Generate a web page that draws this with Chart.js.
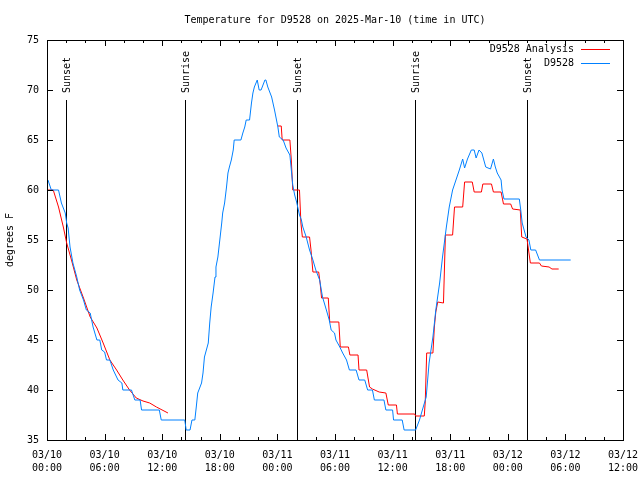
<!DOCTYPE html>
<html>
<head>
<meta charset="utf-8">
<script src="https://cdn.jsdelivr.net/npm/chart.js@4"></script>
<style>
  body { margin: 0; background: #fff; }
  canvas { display: block; }
</style>
</head>
<body>
<canvas id="chart" width="640" height="480"></canvas>
<script>
// hours since 03/10 00:00 UTC
let obsHours = [0.1, 0.45, 1.2, 1.5, 1.9, 2.05, 2.2, 2.4, 2.7, 3.1, 3.4, 3.8, 4.1, 4.5, 4.8, 5.2, 5.5, 5.7, 6.0, 6.2, 6.55, 6.9, 7.4, 7.8, 7.9, 8.8, 9.15, 9.7, 9.85, 11.7, 11.9, 14.35, 14.5, 14.9, 15.1, 15.4, 15.55, 15.7, 16.1, 16.25, 16.4, 16.8, 16.95, 17.1, 17.3, 17.5, 17.6, 17.8, 18.0, 18.2, 18.3, 18.5, 18.7, 18.85, 19.0, 19.2, 19.4, 19.5, 20.2, 20.4, 20.6, 20.75, 21.1, 21.3, 21.45, 21.6, 21.9, 22.1, 22.3, 22.7, 22.8, 23.0, 23.4, 23.7, 24.05, 24.2, 24.6, 24.9, 25.3, 25.45, 25.6, 25.8, 26.0, 26.3, 26.5, 26.65, 27.0, 27.35, 27.7, 28.0, 28.4, 28.7, 29.1, 29.4, 29.6, 29.95, 30.1, 30.5, 30.8, 31.2, 31.5, 32.2, 32.5, 33.1, 33.4, 33.9, 34.1, 35.1, 35.3, 36.0, 36.1, 37.0, 37.2, 38.4, 38.8, 39.1, 39.5, 39.8, 40.2, 40.5, 40.9, 41.2, 41.6, 41.9, 42.25, 42.6, 42.95, 43.3, 43.5, 43.8, 44.2, 44.5, 44.7, 45.0, 45.3, 45.7, 46.2, 46.5, 46.7, 46.9, 47.3, 47.4, 47.6, 49.2, 49.35, 49.5, 49.9, 50.2, 50.4, 50.9, 51.3, 54.55];
let obsTemps = [61.0, 60.0, 60.0, 58.7, 57.7, 56.7, 56.2, 54.3, 52.7, 51.3, 50.0, 49.0, 48.0, 47.7, 46.3, 45.0, 45.0, 44.0, 43.8, 43.0, 43.0, 42.0, 41.0, 40.7, 40.0, 40.0, 39.0, 39.0, 38.0, 38.0, 37.0, 37.0, 36.0, 36.0, 37.0, 37.0, 38.3, 39.7, 40.7, 41.7, 43.3, 44.7, 46.7, 48.3, 49.7, 51.3, 52.3, 53.3, 55.0, 56.7, 57.7, 58.7, 60.3, 61.7, 62.3, 63.0, 64.0, 65.0, 65.0, 65.7, 66.3, 67.0, 67.0, 68.7, 69.7, 70.3, 71.0, 70.0, 70.0, 71.0, 71.0, 70.3, 69.3, 68.0, 66.3, 65.3, 65.0, 64.2, 63.5, 62.0, 60.5, 59.5, 58.8, 57.5, 57.0, 56.3, 55.3, 54.0, 53.0, 52.0, 51.0, 49.3, 48.0, 47.0, 46.0, 45.7, 45.0, 44.3, 43.7, 43.0, 42.0, 42.0, 41.0, 41.0, 40.0, 40.0, 39.0, 39.0, 38.0, 38.0, 37.0, 37.0, 36.0, 36.0, 37.0, 38.0, 39.3, 42.7, 45.3, 48.0, 50.7, 53.3, 56.3, 58.3, 60.0, 61.0, 62.0, 63.1, 62.2, 63.1, 64.0, 64.0, 63.2, 64.0, 63.7, 62.3, 62.1, 63.1, 62.3, 61.7, 61.0, 60.0, 59.1, 59.1, 58.0, 56.7, 55.3, 55.0, 54.0, 54.0, 53.0, 53.0];

// analysis, null marks the gap
let anaHours = [0.0, 0.65, 1.2, 1.7, 2.05, 2.55, 3.1, 3.8, 4.5, 5.2, 5.85, 6.55, 7.25, 7.9, 8.6, 9.3, 10.0, 10.7, 11.4, 12.6, 18, 24.05, 24.4, 24.5, 25.3, 25.45, 25.6, 26.3, 26.45, 26.6, 27.35, 27.5, 27.7, 28.3, 28.45, 28.6, 29.3, 29.45, 30.4, 30.55, 31.4, 31.55, 32.4, 32.5, 33.3, 33.6, 33.9, 34.6, 35.3, 35.55, 36.4, 36.5, 38.3, 38.4, 39.3, 39.4, 39.55, 40.2, 40.35, 40.5, 40.7, 41.3, 41.5, 42.25, 42.45, 43.3, 43.5, 44.3, 44.5, 45.25, 45.4, 46.3, 46.5, 47.3, 47.55, 48.3, 48.5, 49.3, 49.45, 50.0, 50.35, 51.3, 51.5, 52.3, 52.6, 53.3];
let anaTemps = [60.0, 60.0, 58.3, 56.3, 54.7, 53.0, 51.0, 49.2, 47.3, 46.2, 44.7, 43.0, 42.0, 41.0, 40.0, 39.2, 38.9, 38.7, 38.3, 37.7, null, 66.4, 66.4, 65.0, 65.0, 63.0, 60.0, 60.0, 56.7, 55.3, 55.3, 54.0, 51.8, 51.8, 50.7, 49.2, 49.2, 46.8, 46.8, 44.3, 44.3, 43.5, 43.5, 42.0, 42.0, 40.3, 40.1, 39.8, 39.7, 38.5, 38.5, 37.6, 37.6, 37.4, 37.4, 38.8, 43.7, 43.7, 46.3, 47.8, 48.8, 48.7, 55.5, 55.5, 58.3, 58.3, 60.8, 60.8, 59.8, 59.8, 60.6, 60.6, 59.8, 59.8, 58.6, 58.6, 58.1, 58.0, 55.3, 55.1, 52.7, 52.7, 52.4, 52.3, 52.1, 52.1];

let eventHours = [2.0, 14.35, 26.0, 38.3, 49.95];
let eventNames = ['Sunset', 'Sunrise', 'Sunset', 'Sunrise', 'Sunset'];

let tickDates = ['03/10', '03/10', '03/10', '03/10', '03/11', '03/11', '03/11', '03/11', '03/12', '03/12', '03/12'];
let tickTimes = ['00:00', '06:00', '12:00', '18:00', '00:00', '06:00', '12:00', '18:00', '00:00', '06:00', '12:00'];

let title = 'Temperature for D9528 on 2025-Mar-10 (time in UTC)';
let font = 'DejaVu Sans Mono';

function pairs(xs, ys) {
    return xs.map((x, i) => ({ x: x, y: ys[i] }));
}

// frame, inward ticks, sun lines, title and legend, gnuplot style
const gnuplotBits = {
    id: 'gnuplotBits',
    beforeDatasetsDraw(chart) {
        const { ctx, chartArea: a, scales: { x, y } } = chart;
        ctx.save();
        ctx.strokeStyle = '#000';
        ctx.lineWidth = 1;
        ctx.fillStyle = '#000';
        ctx.font = '10px ' + font;
        eventHours.forEach((h, i) => {
            let px = Math.round(x.getPixelForValue(h)) + 0.5;
            let top = y.getPixelForValue(69);
            ctx.beginPath();
            ctx.moveTo(px, top);
            ctx.lineTo(px, a.bottom);
            ctx.stroke();
            ctx.save();
            ctx.translate(px + 1, top - 7);
            ctx.rotate(-Math.PI / 2);
            ctx.textAlign = 'left';
            ctx.textBaseline = 'middle';
            ctx.fillText(eventNames[i], 0, 0);
            ctx.restore();
        });
        ctx.restore();
    },
    afterDatasetsDraw(chart) {
        const { ctx, chartArea: a, scales: { x, y } } = chart;
        ctx.save();
        ctx.strokeStyle = '#000';
        ctx.lineWidth = 1;
        ctx.strokeRect(Math.round(a.left) + 0.5, Math.round(a.top) + 0.5,
            Math.round(a.right - a.left), Math.round(a.bottom - a.top));
        ctx.beginPath();
        for (let h = 0; h <= 60; h += 2) {
            let px = Math.round(x.getPixelForValue(h)) + 0.5;
            let len = h % 6 === 0 ? 6 : 3;
            ctx.moveTo(px, a.bottom);
            ctx.lineTo(px, a.bottom - len);
            ctx.moveTo(px, a.top);
            ctx.lineTo(px, a.top + len);
        }
        for (let t = 35; t <= 75; t += 5) {
            let py = Math.round(y.getPixelForValue(t)) + 0.5;
            ctx.moveTo(a.left, py);
            ctx.lineTo(a.left + 6, py);
            ctx.moveTo(a.right, py);
            ctx.lineTo(a.right - 6, py);
        }
        ctx.stroke();

        ctx.font = '10px ' + font;
        ctx.fillStyle = '#000';
        ctx.textAlign = 'center';
        ctx.textBaseline = 'middle';
        ctx.fillText(title, (a.left + a.right) / 2, 20);

        // legend
        ctx.textAlign = 'right';
        chart.data.datasets.forEach((ds, i) => {
            let ly = 49.5 + i * 14;
            ctx.fillStyle = '#000';
            ctx.fillText(ds.label, 574, ly);
            ctx.strokeStyle = ds.borderColor;
            ctx.beginPath();
            ctx.moveTo(581, ly);
            ctx.lineTo(610, ly);
            ctx.stroke();
        });
        ctx.restore();
    }
};

new Chart(document.getElementById('chart'), {
    type: 'line',
    data: {
        datasets: [{
            label: 'D9528 Analysis',
            data: pairs(anaHours, anaTemps),
            borderColor: '#ff0000',
            borderWidth: 1,
            pointRadius: 0,
            tension: 0,
            spanGaps: false,
            order: 1
        }, {
            label: 'D9528',
            data: pairs(obsHours, obsTemps),
            borderColor: '#0080ff',
            borderWidth: 1,
            pointRadius: 0,
            tension: 0,
            order: 0
        }]
    },
    options: {
        responsive: false,
        animation: false,
        layout: { padding: { left: 0, right: 17, top: 40, bottom: 0 } },
        plugins: {
            legend: { display: false },
            tooltip: { enabled: false },
            title: { display: false }
        },
        scales: {
            x: {
                type: 'linear',
                min: 0,
                max: 60,
                grid: { display: false, drawTicks: false, tickLength: 0 },
                border: { display: false },
                afterFit(scale) {
                    scale.height = 40;
                    scale.paddingLeft = 0;
                    scale.paddingRight = 0;
                },
                afterBuildTicks(scale) {
                    scale.ticks = tickTimes.map((t, i) => ({ value: i * 6 }));
                },
                ticks: {
                    color: '#000',
                    padding: 9,
                    maxRotation: 0,
                    autoSkip: false,
                    font: { family: font, size: 10, lineHeight: 1.3 },
                    callback: (v) => [tickDates[v / 6], tickTimes[v / 6]]
                }
            },
            y: {
                min: 35,
                max: 75,
                grid: { display: false, drawTicks: false, tickLength: 0 },
                border: { display: false },
                afterFit(scale) {
                    scale.width = 47;
                    scale.paddingTop = 0;
                    scale.paddingBottom = 0;
                },
                ticks: {
                    stepSize: 5,
                    color: '#000',
                    padding: 8,
                    font: { family: font, size: 10 }
                },
                title: {
                    display: true,
                    text: 'degrees F',
                    color: '#000',
                    padding: { top: 4, bottom: 0 },
                    font: { family: font, size: 10, lineHeight: 1.2 }
                }
            }
        }
    },
    plugins: [gnuplotBits]
});
</script>
</body>
</html>
